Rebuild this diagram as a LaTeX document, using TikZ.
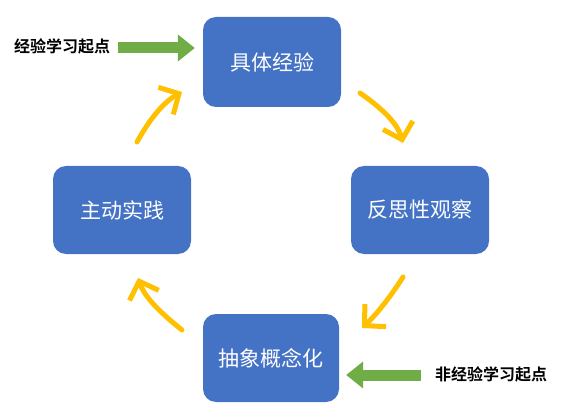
\documentclass[tikz,border=0pt]{standalone}
\usepackage{fontspec}
\setmainfont{Noto Sans CJK SC}
\newfontfamily\cjkb{Noto Sans CJK SC Bold}
\usetikzlibrary{arrows.meta}
\definecolor{boxblue}{HTML}{4472C4}
\definecolor{arrgreen}{HTML}{70AD47}
\definecolor{arryellow}{HTML}{FFC000}
\tikzset{
  stagebox/.style={fill=boxblue, rounded corners=13pt, text=white, font=\fontsize{21}{24}\selectfont, inner sep=0pt},
  startlabel/.style={font=\cjkb\fontsize{16}{19}\selectfont, text=black, inner sep=0pt},
  greenarrow/.style={draw=arrgreen, line width=11pt, -{Triangle[length=17pt,width=26pt]}},
  cyclearrow/.style={draw=arryellow, line width=5pt, line cap=round, -{Straight Barb[length=15pt,width=31pt]}}
}
\begin{document}
\begin{tikzpicture}[x=1pt,y=-1pt]
\useasboundingbox (0,0) rectangle (561,411);
\node[stagebox, minimum width=138pt, minimum height=90pt] (top) at (272,62) {具体经验};
\node[stagebox, minimum width=138pt, minimum height=88pt] (right) at (420,210) {反思性观察};
\node[stagebox, minimum width=138pt, minimum height=88pt] (left) at (122,210) {主动实践};
\node[stagebox, minimum width=136pt, minimum height=88pt] (bottom) at (271,358) {抽象概念化};
\node[startlabel] (lab1) at (62,46) {经验学习起点};
\node[startlabel] (lab2) at (491,374) {非经验学习起点};
\draw[greenarrow] ([xshift=8pt,yshift=-2pt]lab1.east) -- ([xshift=-8pt,yshift=-2pt]lab1.east -| top.west);
\draw[greenarrow] ([xshift=-14pt,yshift=-1pt]lab2.west) -- ([xshift=7pt,yshift=-1pt]lab2.west -| bottom.east);
\coordinate (a1s) at (360,93);
\coordinate (a1e) at (403,143);
\coordinate (a2s) at (137,142);
\coordinate (a2e) at (182,92);
\coordinate (a3s) at (403,277);
\coordinate (a3e) at (362,328);
\coordinate (a4s) at (182,330);
\coordinate (a4e) at (138,278);
\draw[cyclearrow] (a1s) .. controls (380,107) and (397,122) .. (a1e);
\draw[cyclearrow] (a2s) .. controls (148,122) and (162,103) .. (a2e);
\draw[cyclearrow] (a3s) .. controls (393,293) and (378,313) .. (a3e);
\draw[cyclearrow] (a4s) .. controls (162,314) and (145,298) .. (a4e);
\end{tikzpicture}
\end{document}
